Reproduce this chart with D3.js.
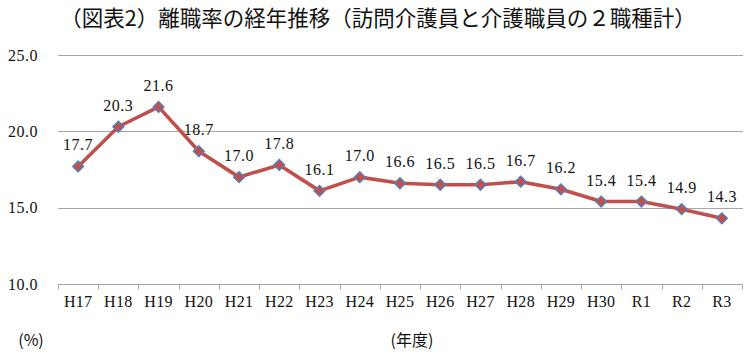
<!DOCTYPE html>
<html><head><meta charset="utf-8">
<script src="https://cdn.jsdelivr.net/npm/d3@7"></script>
<style>body{margin:0;background:#fff}svg{display:block}</style>
</head><body>
<svg id="c" width="750" height="356"></svg>
<script>
const categories = ["H17","H18","H19","H20","H21","H22","H23","H24","H25","H26","H27","H28","H29","H30","R1","R2","R3"];
const values = [17.7,20.3,21.6,18.7,17.0,17.8,16.1,17.0,16.6,16.5,16.5,16.7,16.2,15.4,15.4,14.9,14.3];
const yTicks = [10,15,20,25];
const title = "（図表2）離職率の経年推移（訪問介護員と介護職員の２職種計）";

const svg = d3.select("#c");
const L = 58, R = 742, T = 55, B = 284;
const serif = "'Liberation Serif', 'Times New Roman', serif";
const jp = "'Noto Sans CJK JP', sans-serif";
const x = d3.scaleBand().domain(categories).range([L, R]);
const y = d3.scaleLinear().domain([10, 25]).range([B, T]);

svg.append("text").attr("x", 378).attr("y", 26).attr("text-anchor", "middle")
  .attr("font-family", jp).attr("font-size", 21.5).attr("font-weight", 400)
  .attr("fill", "#111").text(title);

// grid
svg.append("g").selectAll("line").data(yTicks.filter(d => d !== 10)).join("line")
  .attr("x1", L).attr("x2", R + 1).attr("y1", d => Math.round(y(d)) + 0.5).attr("y2", d => Math.round(y(d)) + 0.5)
  .attr("stroke", "#a6a6a6").attr("stroke-width", 1);

// y labels
svg.append("g").selectAll("text").data(yTicks).join("text")
  .attr("x", 38).attr("y", d => y(d)).attr("dy", "0.35em").attr("text-anchor", "end")
  .attr("font-family", serif).attr("font-size", 16).attr("letter-spacing", 0.5).attr("fill", "#111")
  .text(d => d.toFixed(1));

// x axis
const xAxis = d3.axisBottom(x).tickSize(0).tickPadding(11);
const gx = svg.append("g").attr("transform", `translate(0,${Math.round(B) + 0.5})`).call(xAxis);
gx.select(".domain").attr("stroke", "#a6a6a6").attr("d", `M${L},0H${R + 1}`);
gx.selectAll("text").attr("font-family", serif).attr("font-size", 16).attr("letter-spacing", 0.3).attr("fill", "#111");
// category boundary ticks
svg.append("g").selectAll("line").data(categories.concat(["__end"])).join("line")
  .attr("x1", (d, i) => Math.round(L + i * x.step()) + 0.5).attr("x2", (d, i) => Math.round(L + i * x.step()) + 0.5)
  .attr("y1", Math.round(B) + 0.5).attr("y2", Math.round(B) + 5.5)
  .attr("stroke", "#a6a6a6");

// line
const cx = d => x(d) + x.bandwidth() / 2;
const line = d3.line().x((d, i) => cx(categories[i])).y(d => y(d));
svg.append("path").datum(values).attr("d", line).attr("fill", "none")
  .attr("stroke", "#C0504D").attr("stroke-width", 3.6).attr("stroke-linejoin", "round");

// markers
svg.append("g").selectAll("path").data(values).join("path")
  .attr("transform", (d, i) => `translate(${cx(categories[i])},${y(d)}) rotate(45)`)
  .attr("d", d3.symbol().type(d3.symbolSquare).size(60))
  .attr("fill", "#C0504D").attr("stroke", "#4F81BD").attr("stroke-width", 1.3);

// data labels
svg.append("g").selectAll("text").data(values).join("text")
  .attr("x", (d, i) => cx(categories[i])).attr("y", d => y(d) - 16)
  .attr("text-anchor", "middle").attr("font-family", serif).attr("font-size", 16).attr("letter-spacing", 0.5).attr("fill", "#111")
  .text(d => d.toFixed(1));

svg.append("text").attr("x", 31).attr("y", 346).attr("text-anchor", "middle")
  .attr("font-family", jp).attr("font-size", 16).attr("fill", "#111").text("(%)");
svg.append("text").attr("x", 412).attr("y", 346).attr("text-anchor", "middle")
  .attr("font-family", jp).attr("font-size", 16).attr("fill", "#111").text("(年度)");
</script>
</body></html>
